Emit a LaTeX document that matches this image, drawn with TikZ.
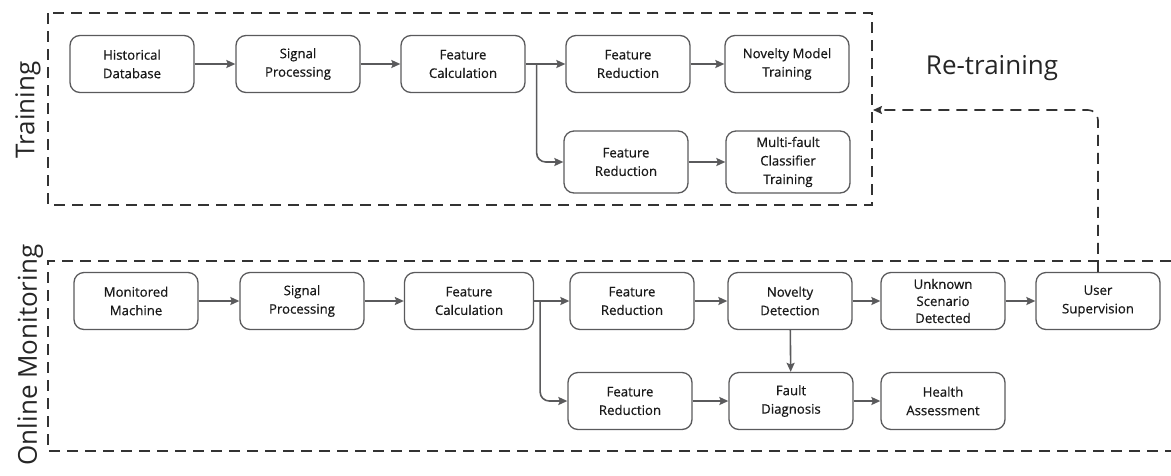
\documentclass[tikz,border=0pt]{standalone}
\usepackage{fontspec}
\setmainfont{Open Sans}
\newfontfamily\boxfont[FakeBold=0.6]{Open Sans}
\usetikzlibrary{arrows.meta,calc}
\definecolor{edge}{HTML}{5A5A5C}
\definecolor{frame}{HTML}{333333}
\tikzset{
  box/.style={draw=edge, line width=1.3pt, rounded corners=10pt, align=center,
    font=\boxfont\fontsize{13.2}{18.5}\selectfont, text=black!90, inner sep=0pt,
    minimum width=124pt, minimum height=57pt},
  arr/.style={draw=edge, line width=1.6pt, -{Stealth[length=9pt,width=8pt,inset=1.5pt]}},
  frm/.style={draw=frame, line width=1.6pt, dash pattern=on 11pt off 7pt},
  biglab/.style={font=\fontsize{26}{30}\selectfont, text=black!85}
}
\begin{document}
\begin{tikzpicture}[x=1pt,y=-1pt]
\useasboundingbox (0,0) rectangle (1171,475);
% frames
\draw[frm] (48,13) rectangle (872,205);
\draw[frm] (1171,261) -- (48,261) -- (48,451) -- (1171,451);
\node[biglab, rotate=90] (tl) at (28,110) {Training};
\node[biglab, rotate=90] (ol) at (30,355) {Online Monitoring};
\node[biglab] (rl) at (992,68) {Re-training};
% training nodes
\node[box] (hd) at (132,64) {Historical\\Database};
\node[box] (sp1) at (298,64) {Signal\\Processing};
\node[box] (fc1) at (463,64) {Feature\\Calculation};
\node[box] (fr1) at (628,64) {Feature\\Reduction};
\node[box] (nm) at (787,64) {Novelty Model\\Training};
\node[box, minimum height=62pt] (fr2) at (626,162) {Feature\\Reduction};
\node[box, minimum height=62pt] (mf) at (788,162) {Multi-fault\\Classifier\\Training};
% online nodes
\node[box] (mm) at (136,301) {Monitored\\Machine};
\node[box] (sp2) at (302,301) {Signal\\Processing};
\node[box, minimum width=129pt] (fc2) at (469,301) {Feature\\Calculation};
\node[box] (fr3) at (632,301) {Feature\\Reduction};
\node[box] (nd) at (790,301) {Novelty\\Detection};
\node[box, font=\boxfont\fontsize{13.2}{17}\selectfont] (us) at (943,301) {Unknown\\Scenario\\Detected};
\node[box] (su) at (1098,301) {User\\Supervision};
\node[box] (fr4) at (630,401) {Feature\\Reduction};
\node[box] (fd) at (791,401) {Fault\\Diagnosis};
\node[box] (ha) at (943,401) {Health\\Assessment};
% training connectors
\draw[arr] (hd) -- (sp1);
\draw[arr] (sp1) -- (fc1);
\draw[arr] (fc1) -- (fr1);
\draw[arr] (fr1) -- (nm);
\draw[arr] (fr2) -- (mf);
\coordinate (b1) at ($(fc1.east)+(11,0)$);
\draw[arr, rounded corners=9pt] (b1) |- (fr2.west);
% online connectors
\draw[arr] (mm) -- (sp2);
\draw[arr] (sp2) -- (fc2);
\draw[arr] (fc2) -- (fr3);
\draw[arr] (fr3) -- (nd);
\draw[arr] (nd) -- (us);
\draw[arr] (us) -- (su);
\draw[arr] (fr4) -- (fd);
\draw[arr] (fd) -- (ha);
\draw[arr] (nd) -- (fd);
\coordinate (b2) at ($(fc2.east)+(6,0)$);
\draw[arr, rounded corners=9pt] (b2) |- (fr4.west);
% retraining
\coordinate (rt) at (873,110);
\draw[frm, -{Stealth[length=9pt,width=8pt,inset=1.5pt]}, rounded corners=10pt] (su.north) |- (rt);
\end{tikzpicture}
\end{document}
